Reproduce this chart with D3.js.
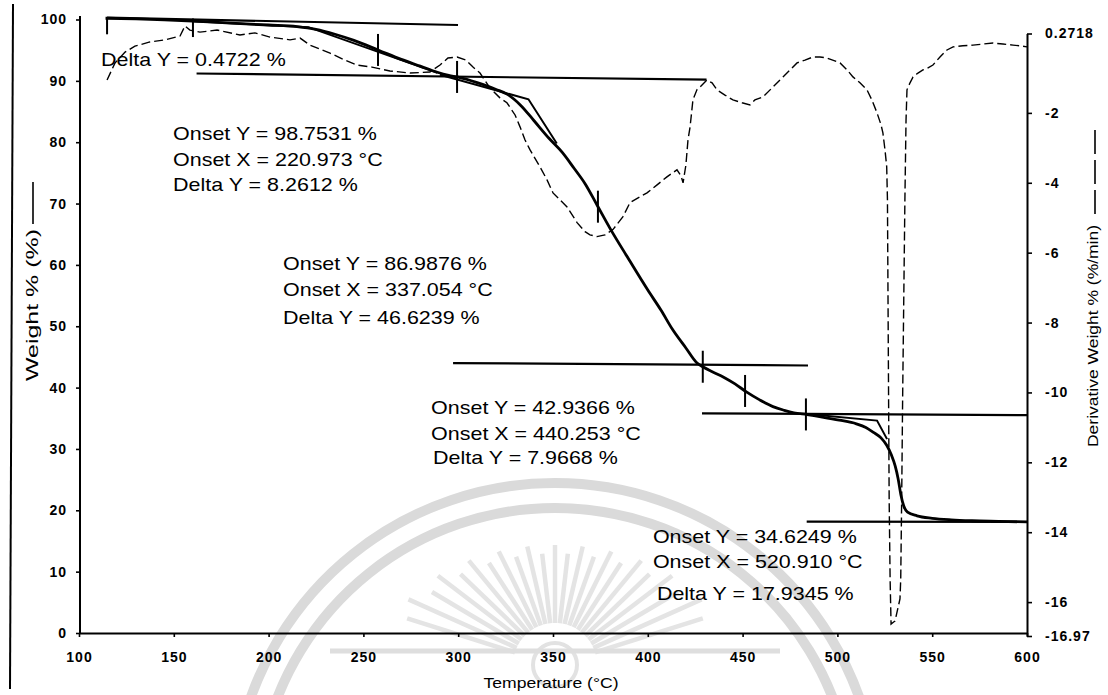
<!DOCTYPE html>
<html><head><meta charset="utf-8">
<script src="https://cdn.jsdelivr.net/npm/d3@7"></script>
<style>
html,body{margin:0;padding:0;background:#fff;}
svg{display:block;font-family:"Liberation Sans",Arial,Helvetica,sans-serif;}
</style></head><body>
<svg id="chart" width="1108" height="695"></svg>
<script>
// Thermogravimetric run: weight (%) and derivative weight (%/min) versus temperature (°C)
const temperature = [114,130,145,160,180,200,215,225,235,245,258,270,280,289,295,300,310,320,326,333,340,348,355,361,367,373.5,380,389,400,407,413,420,426,429,434,440,446,452,459,466,472,477,484,492,501,510,515,519,523,526,528.5,530.5,532,533.5,535,537,542,550,560,571,585,600];
const weightPct = [100.2,100.1,99.95,99.75,99.4,99.1,98.85,98.4,97.6,96.6,95.0,93.5,92.4,91.4,90.9,90.6,89.7,88.6,87.8,86.0,83.5,80.6,78.3,75.8,73.2,69.6,66.0,61.4,55.9,52.6,49.5,46.5,44.0,43.4,42.6,41.7,40.6,39.3,38.0,36.9,36.3,35.9,35.6,35.2,34.7,34.1,33.5,32.7,31.8,30.6,29.0,27.2,25.2,22.5,20.7,19.7,19.1,18.7,18.45,18.3,18.2,18.1];

const derivTemperature = [114.8,119.0,124.3,129.5,137.4,145.4,153.3,155.9,158.5,163.8,172.8,184.9,192.8,200.7,211.3,216.6,221.8,232.4,240.3,246.6,254.5,264.0,274.6,285.1,290.4,294.6,299.4,304.1,307.8,311.5,316.8,322.0,325.7,330.0,332.6,335.2,337.9,343.1,346.8,350.0,353.7,357.4,362.7,366.9,369.5,373.2,377.4,381.6,386.9,390.6,395.9,399.6,404.9,410.1,415.4,417.5,418.6,420.1,421.2,422.3,423.8,425.9,427.5,431.2,433.9,436.5,440.7,444.9,449.7,453.9,456.5,460.8,466.0,471.3,475.0,478.7,482.9,487.1,490.8,494.5,501.4,505.1,508.2,511.9,515.6,518.2,520.9,523.0,524.0,525.1,526.0,526.4,526.7,527.0,527.3,527.8,528.3,530.4,533.0,533.4,533.9,534.4,535.0,535.6,536.2,536.7,538.3,539.9,542.5,545.1,547.8,550.4,554.1,557.8,561.0,566.2,571.5,576.8,582.1,587.3,592.6,596.3,600.0];
const derivWeight = [-1.06,-0.57,-0.26,-0.09,0.03,0.09,0.20,0.49,0.37,0.31,0.37,0.23,0.29,0.17,0.09,0.14,-0.06,-0.29,-0.49,-0.63,-0.69,-0.80,-0.86,-0.83,-0.63,-0.43,-0.40,-0.49,-0.69,-0.86,-1.29,-1.57,-1.71,-2.06,-2.40,-2.77,-3.06,-3.54,-3.91,-4.29,-4.49,-4.69,-5.14,-5.40,-5.49,-5.54,-5.49,-5.34,-4.97,-4.57,-4.40,-4.29,-4.06,-3.83,-3.63,-3.80,-4.00,-3.49,-2.77,-2.40,-1.63,-1.34,-1.26,-1.06,-1.14,-1.34,-1.49,-1.63,-1.71,-1.77,-1.63,-1.54,-1.26,-0.97,-0.77,-0.57,-0.49,-0.40,-0.40,-0.43,-0.57,-0.77,-0.97,-1.14,-1.34,-1.63,-2.00,-2.34,-2.57,-3.06,-3.54,-4.49,-7.34,-10.20,-13.06,-15.34,-16.63,-16.54,-15.91,-15.34,-13.06,-10.20,-7.34,-4.49,-2.20,-1.34,-1.14,-0.97,-0.86,-0.77,-0.71,-0.63,-0.40,-0.20,-0.11,-0.08,-0.06,-0.03,0.00,-0.03,-0.06,-0.08,-0.11];

const xTicks = [100,150,200,250,300,350,400,450,500,550,600];
const weightTicks = [0,10,20,30,40,50,60,70,80,90,100];
const derivTicks = [0.2718,-2,-4,-6,-8,-10,-12,-14,-16,-16.97];
const derivTickLabels = ["0.2718","-2","-4","-6","-8","-10","-12","-14","-16","-16.97"];

// step analysis results
const onsetX = [220.973,337.054,440.253,520.910];
const onsetY = [98.7531,86.9876,42.9366,34.6249];
const deltaY = [0.4722,8.2612,46.6239,7.9668,17.9345];

// extrapolated baselines drawn for the step analysis, [T, weight] end points
const baselineStart = [[114.8,100.3],[162.0,91.2],[297.3,44.0],[428.6,35.8],[483.8,18.15]];
const baselineEnd   = [[299.9,99.1],[431.0,90.2],[484.5,43.6],[600,35.5],[600,18.1]];
// tangent construction around each onset (null where none is drawn)
const tangentStart = [[160,99.7],[290.4,91.0],null,[484,35.7]];
const tangentEnd   = [[289,91.3],[352,79.8],null,[526.2,31.6]];
// analysis cursor temperatures
const cursorTemps = [114.8,160.1,257.7,299.4,373.7,429.0,451.3,483.4];

const svg = d3.select("#chart");
const x = d3.scaleLinear().domain([100,600]).range([79,1027]);
const yW = d3.scaleLinear().domain([0,100]).range([633,19.5]);
const yD = d3.scaleLinear().domain([-16.97,0.2718]).range([636,33.5]);

// faint page watermark (emblem) behind the plot
const wm = svg.append("g").attr("fill","none");
[323, 298].forEach(r => {
  wm.append("path").attr("stroke","#dadada").attr("stroke-width",10)
    .attr("d", d3.arc()({innerRadius:r, outerRadius:r, startAngle:-1.35, endAngle:1.35}))
    .attr("transform","translate(555,806)");
});
// sun rays: outer ends on a flattened ellipse
d3.range(-11,12).forEach(i => {
  const a = i*0.115, s = Math.sin(a), c = Math.cos(a);
  const r1 = 1/Math.sqrt((s/175)**2 + (c/120)**2) * (i%2 ? 0.93 : 1);
  const r0 = 42;
  wm.append("line").attr("stroke","#e4e4e4").attr("stroke-width",4.5)
    .attr("x1", 555 + r0*s).attr("y1", 665 - r0*c)
    .attr("x2", 555 + r1*s).attr("y2", 665 - r1*c);
});
wm.append("circle").attr("cx",555).attr("cy",665).attr("r",22).attr("stroke","#e2e2e2").attr("stroke-width",4);
wm.append("line").attr("x1",330).attr("x2",780).attr("y1",651).attr("y2",651).attr("stroke","#dedede").attr("stroke-width",5);

// page edge line
svg.append("line").attr("x1",13).attr("y1",4).attr("x2",10).attr("y2",689)
  .attr("stroke","#000").attr("stroke-width",2);

// axes
const tickFont = g => g.selectAll("text").attr("font-family",null).attr("font-size","14px")
  .attr("font-weight","bold").attr("letter-spacing","1px").attr("fill","#000");
const axisStyle = g => { g.select(".domain").attr("stroke","#000").attr("stroke-width",2); g.selectAll(".tick line").attr("stroke","#000").attr("stroke-width",1.6); };

svg.append("g").attr("transform","translate(0,633)")
  .call(d3.axisBottom(x).tickValues(xTicks).tickFormat(d3.format("d")).tickSize(4).tickSizeOuter(0).tickPadding(15))
  .call(axisStyle).call(tickFont);

svg.append("g").attr("transform","translate(80,0)")
  .call(d3.axisLeft(yW).tickValues(weightTicks).tickFormat(d3.format("d")).tickSize(4).tickSizeOuter(0).tickPadding(9))
  .call(axisStyle).call(tickFont).call(g=>g.select(".domain").attr("d","M0,16V634"));

svg.append("g").attr("transform","translate(1027,0)")
  .call(d3.axisRight(yD).tickValues(derivTicks).tickFormat((d,i)=>derivTickLabels[i]).tickSize(5).tickSizeOuter(0).tickPadding(13))
  .call(axisStyle).call(tickFont);

// axis titles
svg.append("text").attr("x",551).attr("y",688).attr("text-anchor","middle")
  .attr("font-size","15.5px").attr("textLength",135).attr("lengthAdjust","spacingAndGlyphs").text("Temperature (°C)");
svg.append("text").attr("transform","translate(38,305) rotate(-90)").attr("text-anchor","middle")
  .attr("font-size","16.5px").attr("textLength",152).attr("lengthAdjust","spacingAndGlyphs").text("Weight % (%)");
svg.append("line").attr("x1",33).attr("x2",33).attr("y1",182).attr("y2",224).attr("stroke","#000").attr("stroke-width",1.6);
svg.append("text").attr("transform","translate(1098,336) rotate(-90)").attr("text-anchor","middle")
  .attr("font-size","15.5px").attr("textLength",222).attr("lengthAdjust","spacingAndGlyphs").text("Derivative Weight % (%/min)");
svg.append("line").attr("x1",1095).attr("x2",1095).attr("y1",130).attr("y2",214).attr("stroke","#000").attr("stroke-width",1.6).attr("stroke-dasharray","24,6");

// derivative curve (dashed, right axis)
svg.append("path").datum(derivTemperature.map((t,i)=>[t,derivWeight[i]]))
  .attr("fill","none").attr("stroke","#000").attr("stroke-width",1.4).attr("stroke-dasharray","9,4")
  .attr("d", d3.line().x(d=>x(d[0])).y(d=>yD(d[1])));

// baselines
const pt = p => [x(p[0]), yW(p[1])];
baselineStart.forEach((s,i)=>{
  svg.append("path").attr("fill","none").attr("stroke","#000").attr("stroke-width",2.2)
    .attr("d", d3.line()([pt(s), pt(baselineEnd[i])]));
});

// onset tangents meeting at the onset point
onsetX.forEach((ox,i)=>{
  if(!tangentStart[i]) return;
  svg.append("path").attr("fill","none").attr("stroke","#000").attr("stroke-width",2).attr("stroke-linejoin","miter")
    .attr("d", d3.line()([pt(tangentStart[i]), pt([ox,onsetY[i]]), pt(tangentEnd[i])]));
});

// weight curve (solid, left axis)
const weightAt = t => {
  const i = d3.bisectLeft(temperature, t);
  if(i<=0) return weightPct[0];
  if(i>=temperature.length) return weightPct[weightPct.length-1];
  const f = (t-temperature[i-1])/(temperature[i]-temperature[i-1]);
  return weightPct[i-1] + f*(weightPct[i]-weightPct[i-1]);
};
svg.append("path").datum(temperature.map((t,i)=>[t,weightPct[i]]))
  .attr("fill","none").attr("stroke","#000").attr("stroke-width",2.8).attr("stroke-linejoin","round")
  .attr("d", d3.line().x(d=>x(d[0])).y(d=>yW(d[1])).curve(d3.curveMonotoneX));

// analysis cursors
cursorTemps.forEach(t=>{
  const cy = yW(weightAt(t));
  const top = Math.max(cy-16, yW(100)-1);
  svg.append("line").attr("x1",x(t)).attr("x2",x(t)).attr("y1",top).attr("y2",cy+16)
    .attr("stroke","#000").attr("stroke-width",2);
});

// result labels
const f4 = d3.format(".4f"), f3 = d3.format(".3f");
const blocks = [
  {at:[111.6,92.5], lines:[`Delta Y = ${f4(deltaY[0])} %`], gap:[0]},
  {at:[149.6,80.3], lines:[`Onset Y = ${f4(onsetY[0])} %`,`Onset X = ${f3(onsetX[0])} °C`,`Delta Y = ${f4(deltaY[1])} %`], gap:[0,26,51], dx:[0,0,0]},
  {at:[207.6,59.2], lines:[`Onset Y = ${f4(onsetY[1])} %`,`Onset X = ${f3(onsetX[1])} °C`,`Delta Y = ${f4(deltaY[2])} %`], gap:[0,26,54], dx:[0,0,0]},
  {at:[285.7,35.7], lines:[`Onset Y = ${f4(onsetY[2])} %`,`Onset X = ${f3(onsetX[2])} °C`,`Delta Y = ${f4(deltaY[3])} %`], gap:[0,26,50], dx:[0,0,2]},
  {at:[402.7,14.7], lines:[`Onset Y = ${f4(onsetY[3])} %`,`Onset X = ${f3(onsetX[3])} °C`,`Delta Y = ${f4(deltaY[4])} %`], gap:[0,25,57], dx:[0,0,4]}
];
blocks.forEach(b=>{
  const bx = x(b.at[0]), by = yW(b.at[1]);
  b.lines.forEach((s,j)=>{
    svg.append("text").attr("transform",`translate(${bx+(b.dx?b.dx[j]:0)},${by+b.gap[j]}) scale(1.13,1)`)
      .attr("font-size","19px").attr("fill","#000").text(s);
  });
});
</script>
</body></html>
